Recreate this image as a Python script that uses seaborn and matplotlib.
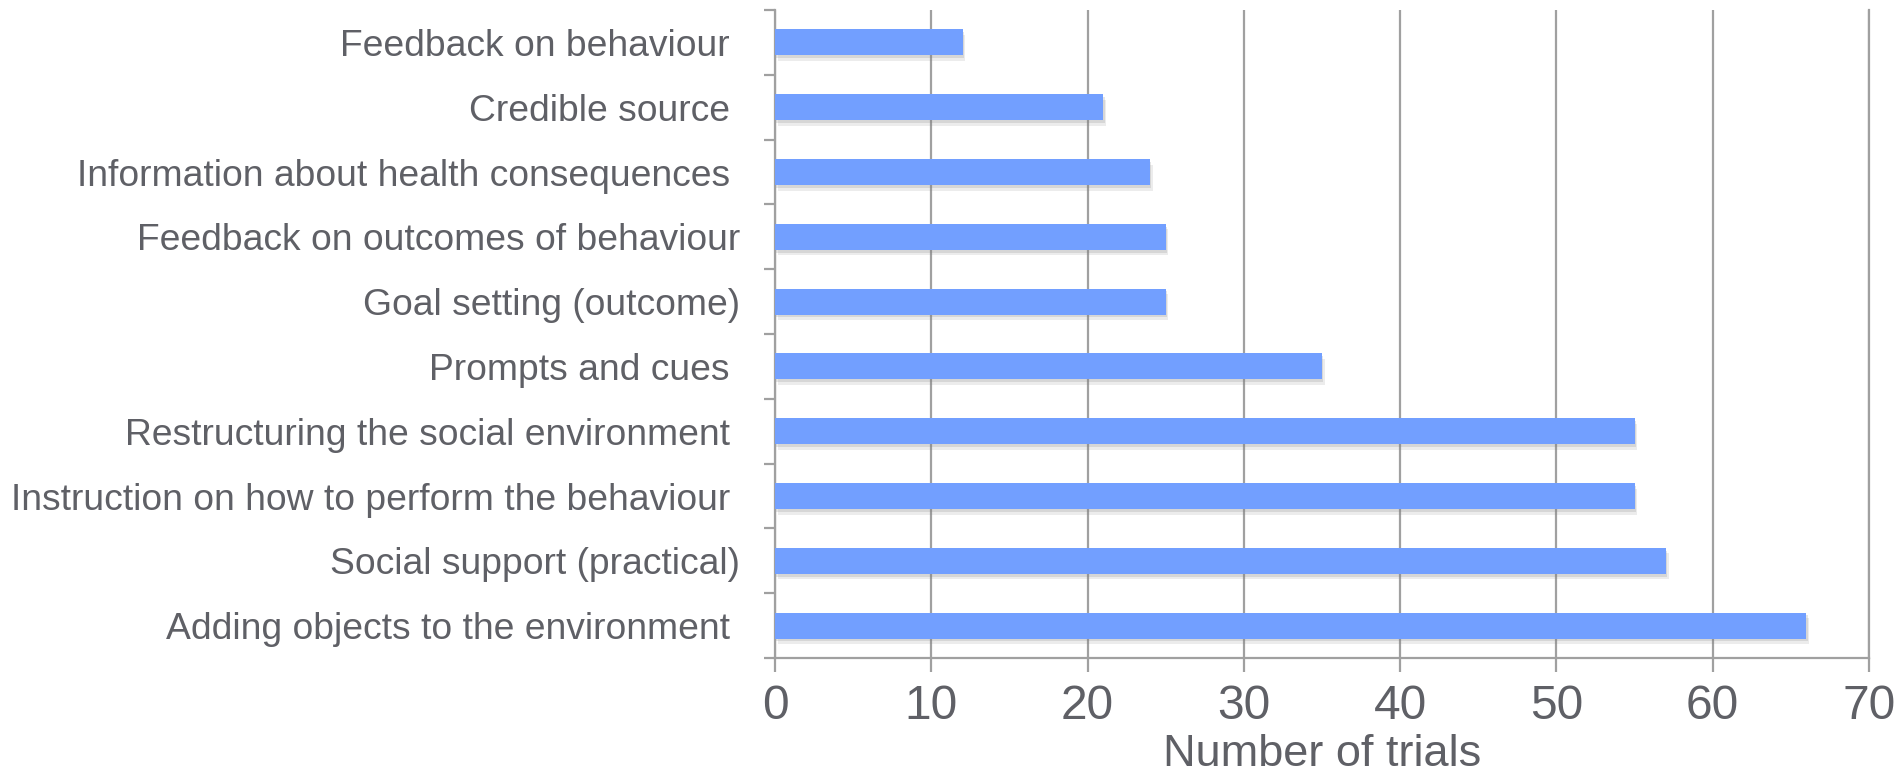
import matplotlib
matplotlib.use("Agg")
import matplotlib.pyplot as plt
import matplotlib.patheffects as pe
from matplotlib.ticker import FixedLocator
import seaborn as sns
import pandas as pd
import numpy as np

categories = [
    "Feedback on behaviour ",
    "Credible source ",
    "Information about health consequences ",
    "Feedback on outcomes of behaviour",
    "Goal setting (outcome)",
    "Prompts and cues ",
    "Restructuring the social environment ",
    "Instruction on how to perform the behaviour ",
    "Social support (practical)",
    "Adding objects to the environment ",
]
trials = [12, 21, 24, 25, 25, 35, 55, 55, 57, 66]
x_ticks = [0, 10, 20, 30, 40, 50, 60, 70]

sns.set_theme(style="white")
plt.rcParams["font.family"] = ["Liberation Sans", "DejaVu Sans"]

text_color = "#5f6066"
line_color = "#a0a0a0"
bar_color = "#729fff"

df = pd.DataFrame({"technique": categories, "trials": trials})

W, H = 1899, 777
fig = plt.figure(figsize=(W / 100, H / 100), dpi=100)
left, right, top, bottom = 775, 1869, 10, 658
ax = fig.add_axes([left / W, 1 - bottom / H, (right - left) / W, (bottom - top) / H])

sns.barplot(data=df, x="trials", y="technique", orient="h", color=bar_color,
            saturation=1, width=0.4, ax=ax, zorder=3)

for patch in ax.patches:
    patch.set_linewidth(0)
    patch.set_path_effects([
        pe.SimplePatchShadow(offset=(2, -4), shadow_rgbFace="#808080", alpha=0.15),
        pe.SimplePatchShadow(offset=(1, -2), shadow_rgbFace="#808080", alpha=0.2),
        pe.Normal(),
    ])

ax.set_xlim(0, 70)
ax.set_ylim(len(categories) - 0.5, -0.5)
ax.set_xticks(x_ticks)
ax.set_xticklabels([str(t) for t in x_ticks])

ax.grid(axis="x", color=line_color, linewidth=1.6)
ax.grid(axis="y", visible=False)
ax.set_axisbelow(True)

# category labels on major ticks, tick marks at category boundaries
ax.yaxis.set_minor_locator(FixedLocator(np.arange(-0.5, len(categories), 1.0)))
ax.tick_params(axis="y", which="major", length=0, pad=25, labelsize=26.8,
               labelcolor=text_color)
ax.tick_params(axis="y", which="minor", left=True, length=8, width=1.6,
               color=line_color)
ax.tick_params(axis="x", which="major", bottom=True, length=10, width=1.6,
               color=line_color, labelsize=34.5, labelcolor=text_color, pad=9)

ax.spines["top"].set_visible(False)
for side in ["left", "bottom", "right"]:
    ax.spines[side].set_visible(True)
    ax.spines[side].set_color(line_color)
    ax.spines[side].set_linewidth(1.6)

ax.set_ylabel("")
ax.set_xlabel("")
fig.text((left + right) / 2 / W, 11 / H, "Number of trials", fontsize=32.5,
         color=text_color, ha="center", va="baseline")

fig.savefig("out.png", dpi=100, facecolor="white")
